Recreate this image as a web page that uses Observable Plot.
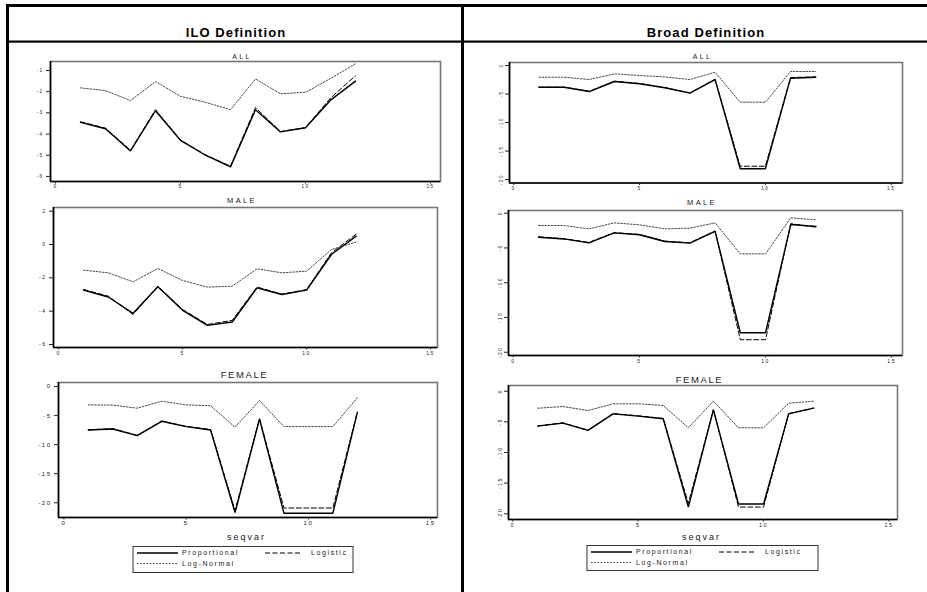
<!DOCTYPE html>
<html>
<head>
<meta charset="utf-8">
<script src="https://cdn.jsdelivr.net/npm/d3@7"></script>
<script src="https://cdn.jsdelivr.net/npm/@observablehq/plot@0.6"></script>
<style>
  html, body { margin: 0; padding: 0; background: #fff; }
  #wrap { position: relative; width: 927px; height: 592px; overflow: hidden; background: #fff; font-family: "Liberation Sans", Arial, sans-serif; }
  #deco { position: absolute; left: 0; top: 0; }
</style>
</head>
<body>
<div id="wrap">
<svg id="deco" width="927" height="592" font-family="Liberation Sans, Arial, sans-serif"></svg>
</div>
<script>
// ---------- DATA ----------
const seqvar = [1, 2, 3, 4, 5, 6, 7, 8, 9, 10, 11, 12];
const models = ["Proportional", "Logistic", "Log-Normal"];
const columnTitles = ["ILO Definition", "Broad Definition"];
const panelTitles = ["ALL", "MALE", "FEMALE"];
const xTicks = [0, 5, 10, 15];
const yTicksIloAll = [-1, -2, -3, -4, -5, -6];
const yTicksIloMale = [2, 0, -2, -4, -6];
const yTicksIloFemale = [0, -5, -10, -15, -20];
const yTicksBroad = [0, -5, -10, -15, -20];

// ILO definition
const iloAllProp = [-3.45, -3.75, -4.8, -2.9, -4.3, -5.0, -5.55, -2.85, -3.9, -3.7, -2.4, -1.5];
const iloAllLogit = [-3.42, -3.72, -4.76, -2.85, -4.28, -4.98, -5.52, -2.75, -3.88, -3.7, -2.3, -1.25];
const iloAllLogn = [-1.82, -1.95, -2.42, -1.52, -2.22, -2.5, -2.85, -1.4, -2.1, -2.03, -1.38, -0.68];

const iloMaleProp = [-2.74, -3.15, -4.13, -2.54, -3.95, -4.85, -4.65, -2.6, -3.0, -2.74, -0.6, 0.5];
const iloMaleLogit = [-2.7, -3.1, -4.2, -2.5, -3.9, -4.8, -4.55, -2.55, -2.98, -2.7, -0.5, 0.62];
const iloMaleLogn = [-1.54, -1.7, -2.24, -1.44, -2.16, -2.56, -2.5, -1.46, -1.7, -1.6, -0.3, 0.15];

const iloFemaleProp = [-7.47, -7.3, -8.45, -5.98, -6.9, -7.47, -21.7, -5.6, -21.8, -21.8, -21.8, -4.5];
const iloFemaleLogit = [-7.45, -7.25, -8.4, -5.95, -6.85, -7.4, -21.3, -5.5, -20.9, -20.9, -20.9, -4.4];
const iloFemaleLogn = [-3.16, -3.2, -3.73, -2.53, -3.16, -3.3, -7.0, -2.41, -6.9, -6.9, -6.9, -1.95];

// Broad definition
const broadAllProp = [-3.8, -3.8, -4.56, -2.8, -3.2, -3.9, -4.85, -2.46, -18.1, -18.1, -2.22, -2.05];
const broadAllLogit = [-3.8, -3.8, -4.5, -2.75, -3.15, -3.85, -4.8, -2.4, -17.66, -17.66, -2.1, -2.0];
const broadAllLogn = [-2.05, -2.05, -2.46, -1.46, -1.75, -2.0, -2.46, -1.17, -6.43, -6.43, -1.05, -1.05];

const broadMaleProp = [-3.45, -3.7, -4.27, -2.83, -3.1, -4.07, -4.3, -2.6, -17.2, -17.2, -1.63, -1.92];
const broadMaleLogit = [-3.4, -3.65, -4.2, -2.8, -3.05, -4.0, -4.25, -2.55, -18.2, -18.2, -1.5, -2.0];
const broadMaleLogn = [-1.77, -1.77, -2.25, -1.39, -1.67, -2.25, -2.15, -1.39, -5.85, -5.85, -0.67, -0.95];

const broadFemaleProp = [-5.7, -5.2, -6.4, -3.7, -4.07, -4.5, -18.9, -3.04, -18.4, -18.4, -3.7, -2.77];
const broadFemaleLogit = [-5.65, -5.15, -6.35, -3.65, -4.0, -4.45, -18.3, -3.0, -18.9, -18.9, -3.65, -2.75];
const broadFemaleLogn = [-2.77, -2.5, -3.15, -2.06, -2.06, -2.33, -5.97, -1.63, -5.97, -5.97, -1.96, -1.63];

// ---------- LAYOUT ----------
const FONT = "Liberation Sans, Arial, sans-serif";
const modelStyle = {
  "Proportional": {stroke: "#000", strokeWidth: 1.4, dash: null},
  "Logistic": {stroke: "#000", strokeWidth: 1.0, dash: "5,2.5"},
  "Log-Normal": {stroke: "#333", strokeWidth: 0.9, dash: "1.6,1.6"}
};

const panels = [
  {title: panelTitles[0], series: [iloAllProp, iloAllLogit, iloAllLogn], frame: [50, 61, 440, 181], xd: [-0.2, 15.4], yd: [-6.24, -0.575], yt: yTicksIloAll, rot: false, fs: 4.6, tfs: 7, tby: 59},
  {title: panelTitles[1], series: [iloMaleProp, iloMaleLogit, iloMaleLogn], frame: [53, 207, 437, 347], xd: [-0.21, 15.28], yd: [-6.18, 2.22], yt: yTicksIloMale, rot: false, fs: 5, tfs: 7.5, tby: 203},
  {title: panelTitles[2], series: [iloFemaleProp, iloFemaleLogit, iloFemaleLogn], frame: [58, 382, 437, 517], xd: [-0.22, 15.28], yd: [-22.53, 0.69], yt: yTicksIloFemale, rot: false, fs: 6, tfs: 9.5, tby: 378, xlabel: true},
  {title: panelTitles[0], series: [broadAllProp, broadAllLogit, broadAllLogn], frame: [509, 62, 902, 182.5], xd: [-0.17, 15.45], yd: [-20.6, 0.53], yt: yTicksBroad, rot: true, fs: 4.6, tfs: 7, tby: 59},
  {title: panelTitles[1], series: [broadMaleProp, broadMaleLogit, broadMaleLogn], frame: [508, 210, 902, 355], xd: [-0.19, 15.43], yd: [-20.47, 0.39], yt: yTicksBroad, rot: true, fs: 5, tfs: 7.5, tby: 205},
  {title: panelTitles[2], series: [broadFemaleProp, broadFemaleLogit, broadFemaleLogn], frame: [508, 385, 897, 519], xd: [-0.17, 15.34], yd: [-20.93, 0.93], yt: yTicksBroad, rot: true, fs: 5.5, tfs: 9.5, tby: 383, xlabel: true}
];

const wrap = document.getElementById("wrap");
const deco = d3.select("#deco");

// Outer frame & header lines
deco.append("rect").attr("x", 6).attr("y", 4).attr("width", 921).attr("height", 3).attr("fill", "#000");
deco.append("rect").attr("x", 6).attr("y", 4).attr("width", 3).attr("height", 588).attr("fill", "#000");
deco.append("rect").attr("x", 461).attr("y", 4).attr("width", 3).attr("height", 588).attr("fill", "#000");
deco.append("rect").attr("x", 6).attr("y", 40.5).attr("width", 921).attr("height", 2.2).attr("fill", "#000");

// Column titles
[[columnTitles[0], 236], [columnTitles[1], 706]].forEach(([t, cx]) => {
  deco.append("text").attr("x", cx).attr("y", 37).attr("text-anchor", "middle")
    .attr("font-size", 13).attr("font-weight", "bold").attr("letter-spacing", "1.1px")
    .attr("fill", "#000").text(t);
});

const ML = 40, MR = 6, MT = 4, MB = 22;

panels.forEach(p => {
  const [x0, y0, x1, y1] = p.frame;
  const data = [];
  p.series.forEach((vals, i) => vals.forEach((v, j) => data.push({seqvar: seqvar[j], value: v, model: models[i]})));
  const W = (x1 - x0) + ML + MR, H = (y1 - y0) + MT + MB;
  const marks = [
    Plot.frame({stroke: "#777", strokeWidth: 1.6}),
    Plot.ruleX([p.xd[0]], {stroke: "#000", strokeWidth: 1.6}),
    Plot.ruleY([p.yd[0]], {stroke: "#000", strokeWidth: 1.6}),
    Plot.axisX({ticks: xTicks, tickSize: 2.5, tickPadding: 1, tickFormat: d => String(d), fontSize: p.fs, label: null}),
    p.rot
      ? Plot.axisY({ticks: p.yt, tickSize: 4, tickPadding: 3, tickRotate: -90, tickFormat: d => String(d), fontSize: p.fs, label: null})
      : Plot.axisY({ticks: p.yt, tickSize: 4, tickPadding: 3, tickFormat: d => String(d), fontSize: p.fs, label: null}),
    ...models.map(m => Plot.line(data.filter(d => d.model === m), {
      x: "seqvar", y: "value",
      stroke: modelStyle[m].stroke, strokeWidth: modelStyle[m].strokeWidth,
      strokeDasharray: modelStyle[m].dash, strokeLinejoin: "miter"
    }))
  ];
  const svg = Plot.plot({
    width: W, height: H,
    marginLeft: ML, marginRight: MR, marginTop: MT, marginBottom: MB,
    x: {domain: p.xd},
    y: {domain: p.yd},
    style: {fontFamily: FONT, background: "transparent", color: "#222", letterSpacing: "1.5px", overflow: "visible"},
    marks
  });
  svg.style.position = "absolute";
  svg.style.left = (x0 - ML) + "px";
  svg.style.top = (y0 - MT) + "px";
  svg.style.maxWidth = "none";
  wrap.appendChild(svg);

  // panel title
  const cx = (x0 + x1) / 2 - 3;
  deco.append("text").attr("x", cx).attr("y", p.tby).attr("text-anchor", "middle")
    .attr("font-size", p.tfs).attr("letter-spacing", p.tfs > 9 ? "1.6px" : "2.4px")
    .attr("fill", "#222").text(p.title);

  if (p.xlabel) {
    deco.append("text").attr("x", cx + 2).attr("y", 540).attr("text-anchor", "middle")
      .attr("font-size", 9).attr("letter-spacing", "2px").attr("fill", "#222").text("seqvar");
  }
});

// Legends
function legend(bx, by, bw, bh) {
  const g = deco.append("g").attr("transform", `translate(${bx},${by})`);
  g.append("rect").attr("x", 0).attr("y", 0).attr("width", bw).attr("height", bh)
    .attr("fill", "none").attr("stroke", "#333").attr("stroke-width", 1);
  const items = [
    {m: models[0], lx: 4, tx: 49, y: 6.5},
    {m: models[1], lx: 132, tx: 178, y: 6.5},
    {m: models[2], lx: 4, tx: 49, y: 17}
  ];
  items.forEach(it => {
    const s = modelStyle[it.m];
    g.append("line").attr("x1", it.lx).attr("x2", it.lx + (it.m === "Logistic" ? 37 : 41))
      .attr("y1", it.y).attr("y2", it.y).attr("stroke", s.stroke)
      .attr("stroke-width", s.strokeWidth).attr("stroke-dasharray", s.dash);
    g.append("text").attr("x", it.tx).attr("y", it.y + 2.4).attr("font-size", 7)
      .attr("letter-spacing", "1.6px").attr("fill", "#222").text(it.m);
  });
}
legend(133, 546.5, 220, 26);
legend(587, 545.5, 231, 25);
</script>
</body>
</html>
